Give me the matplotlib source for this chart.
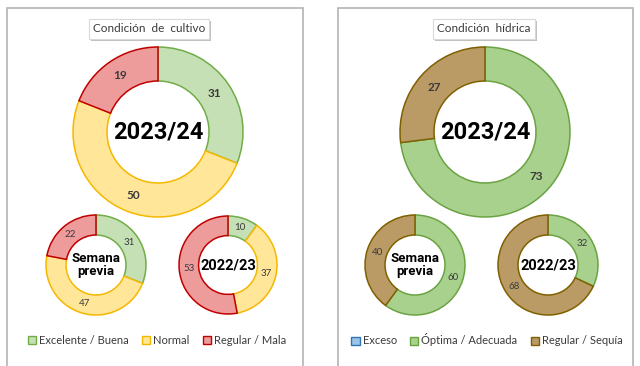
import matplotlib.pyplot as plt
import matplotlib.patheffects as pe
from matplotlib.patches import Patch, Rectangle
import numpy as np

plt.rcParams["font.family"] = ["Lato", "DejaVu Sans"]

# data
cultivo_labels = ["Excelente / Buena", "Normal", "Regular / Mala"]
cultivo_actual = [31, 50, 19]
cultivo_previa = [31, 47, 22]
cultivo_anterior = [10, 37, 53]

hidrica_labels = ["Exceso", "Óptima / Adecuada", "Regular / Sequía"]
hidrica_actual = [0, 73, 27]
hidrica_previa = [0, 60, 40]
hidrica_anterior = [0, 32, 68]

cultivo_fill = ["#c5e0b4", "#ffe699", "#ee9b9b"]
cultivo_edge = ["#70ad47", "#f5b800", "#c00000"]
hidrica_fill = ["#9dc3e6", "#a9d18e", "#bb9b65"]
hidrica_edge = ["#2e75b6", "#6aa341", "#7f6000"]

W, H = 640, 366
fig = plt.figure(figsize=(6.4, 3.66), dpi=100)
ax = fig.add_axes((0, 0, 1, 1))


def donut(values, fills, edges, cx, cy, r, center_text, csize, lsize, lweight):
    wedges, _ = ax.pie(values, colors=fills, center=(cx, H - cy), radius=r,
                       startangle=90, counterclock=False,
                       wedgeprops=dict(width=r * 0.4, linewidth=1.1))
    for w, ec, v in zip(wedges, edges, values):
        w.set_edgecolor(ec)
        if v == 0:
            continue
        ang = np.deg2rad((w.theta1 + w.theta2) / 2)
        ax.text(cx + 0.8 * r * np.cos(ang), H - cy + 0.8 * r * np.sin(ang), str(v),
                ha="center", va="center", fontsize=lsize, fontweight=lweight,
                color="#3a3a3a")
    ax.text(cx, H - cy, center_text, ha="center", va="center", fontsize=csize,
            fontweight="bold", family=["Roboto", "DejaVu Sans"],
            linespacing=0.95, color="black")


# panel frames
for x0, x1 in [(7, 303), (338, 633)]:
    ax.add_patch(Rectangle((x0, -5), x1 - x0, H - 8 + 5, facecolor="white",
                           edgecolor="#b4b4b4", linewidth=1.2, zorder=0))

# titles
for title, x in [("Condición  de  cultivo", 149), ("Condición  hídrica", 484)]:
    t = ax.text(x, H - 29, title, ha="center", va="center", fontsize=8.5,
                color="#3a3a3a",
                bbox=dict(boxstyle="square,pad=0.35", facecolor="white",
                          edgecolor="#d9d9d9", linewidth=0.8))
    t.get_bbox_patch().set_path_effects([pe.SimplePatchShadow(offset=(1.5, -1.5),
                                                              alpha=0.35),
                                         pe.Normal()])

donut(cultivo_actual, cultivo_fill, cultivo_edge, 158, 132, 85, "2023/24", 17, 8.5, "bold")
donut(cultivo_previa, cultivo_fill, cultivo_edge, 96, 265, 50, "Semana\nprevia", 9.5, 7, "normal")
donut(cultivo_anterior, cultivo_fill, cultivo_edge, 228, 265, 49, "2022/23", 10.5, 7, "normal")

donut(hidrica_actual, hidrica_fill, hidrica_edge, 485, 132, 85, "2023/24", 17, 8.5, "bold")
donut(hidrica_previa, hidrica_fill, hidrica_edge, 415, 265, 50, "Semana\nprevia", 9.5, 7, "normal")
donut(hidrica_anterior, hidrica_fill, hidrica_edge, 548, 265, 50, "2022/23", 10.5, 7, "normal")

# pie() resets the limits, so fix them afterwards
ax.set_xlim(0, W)
ax.set_ylim(0, H)
ax.set_aspect("equal")
ax.axis("off")

# legends
for labels, fills, edges, xc in [(cultivo_labels, cultivo_fill, cultivo_edge, 157),
                                 (hidrica_labels, hidrica_fill, hidrica_edge, 487)]:
    handles = [Patch(facecolor=f, edgecolor=e, linewidth=1) for f, e in zip(fills, edges)]
    leg = fig.legend(handles, labels, loc="center", ncol=3, frameon=False,
                     bbox_to_anchor=(xc / W, 1 - 340 / H), fontsize=8,
                     handlelength=0.75, handleheight=0.75, handletextpad=0.25,
                     columnspacing=1.2, labelcolor="#3a3a3a")

fig.savefig("out.png", dpi=100)
